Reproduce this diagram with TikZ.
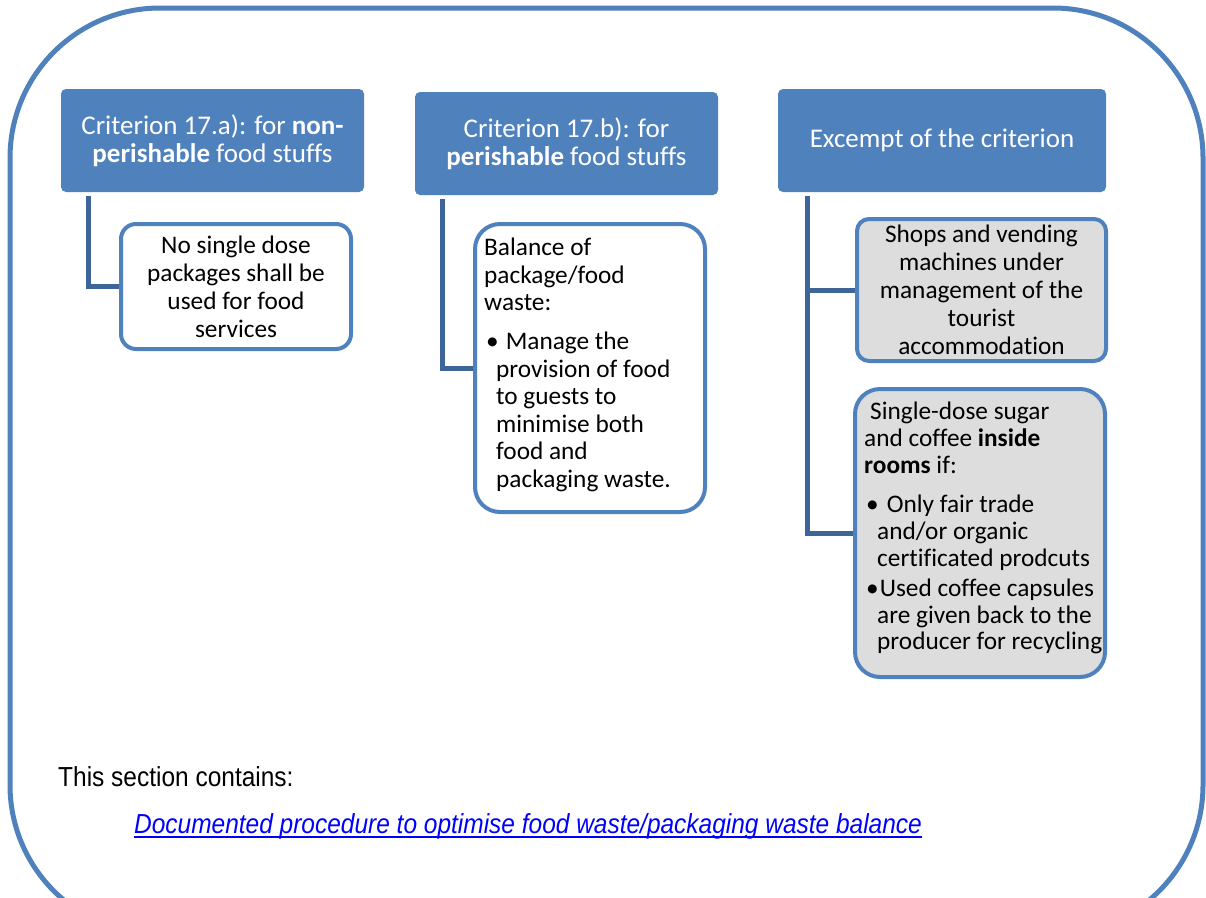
\documentclass[tikz,border=0pt]{standalone}
\usepackage{fontspec}
\setmainfont{Carlito}[RawFeature={-liga;-clig;-dlig}]
\newfontfamily\narrowfont[FakeStretch=0.89]{Liberation Sans}
\definecolor{hdr}{RGB}{79,129,189}
\definecolor{conncol}{RGB}{61,101,152}
\definecolor{boxgrey}{RGB}{221,221,221}
\definecolor{linkblue}{RGB}{0,0,255}
\begin{document}
\begin{tikzpicture}[x=1pt,y=-1pt,
  hdrbox/.style={fill=hdr, rounded corners=5pt, text=white, align=center,
    font=\fontsize{27}{28.5}\selectfont, inner sep=0pt, minimum height=103pt},
  childbox/.style={draw=hdr, line width=4pt, fill=white, align=center,
    font=\fontsize{25.3}{28}\selectfont, inner sep=0pt},
  greybox/.style={childbox, fill=boxgrey},
  childtxt/.style={align=left, inner sep=0pt, font=\fontsize{25.3}{27.6}\selectfont},
  conn/.style={draw=conncol, line width=5pt},
  outer/.style={draw=hdr, line width=5pt, rounded corners=150pt},
  bottomtxt/.style={anchor=base west, inner sep=0pt, font=\narrowfont\fontsize{27.5}{30}\selectfont}
]
\useasboundingbox (0,0) rectangle (1206,897);
\clip (0,0) rectangle (1206,897);
\fill[white] (0,0) rectangle (1206,897);
\draw[outer] (10,8) rectangle (1203,935);

% headers
\node[hdrbox, minimum width=303pt] (h1) at (212.5,140.5)
  {Criterion 17.a): for \textbf{non-}\\\textbf{perishable} food stuffs};
\node[hdrbox, minimum width=303pt] (h2) at (566.5,143.5)
  {Criterion 17.b): for\\\textbf{perishable} food stuffs};
\node[hdrbox, minimum width=328pt] (h3) at (942,140.5)
  {Excempt of the criterion};

% children
\node[childbox, rounded corners=15pt, minimum width=230pt, minimum height=125pt] (c1) at (236,286.5)
  {No single dose\\packages shall be\\used for food\\services};
\node[childbox, rounded corners=25pt, minimum width=230pt, minimum height=288pt] (c2) at (590,368) {};
\node[childtxt, anchor=west] (c2t) at ([xshift=11pt,yshift=3pt]c2.west)
  {Balance of\\package/food\\waste:\\[11pt]
   \hspace*{2pt}\textbullet\hspace{7pt}Manage the\\
   \hspace*{12pt}provision of food\\
   \hspace*{12pt}to guests to\\
   \hspace*{12pt}minimise both\\
   \hspace*{12pt}food and\\
   \hspace*{12pt}packaging waste.};
\node[greybox, rounded corners=12pt, minimum width=249pt, minimum height=142pt] (c3) at (981.5,290)
  {Shops and vending\\machines under\\management of the\\tourist\\accommodation};
\node[greybox, rounded corners=25pt, minimum width=250pt, minimum height=288pt] (c4) at (980,533) {};
\node[childtxt, anchor=west, font=\fontsize{25.3}{26.8}\selectfont] (c4t) at ([xshift=11pt,yshift=5pt]c4.west)
  {\hspace*{6pt}Single-dose sugar\\and coffee \textbf{inside}\\\textbf{rooms} if:\\[13pt]
   \hspace*{2pt}\textbullet\hspace{8pt}Only fair trade\\
   \hspace*{13pt}and/or organic\\
   \hspace*{13pt}certificated prodcuts\\[3pt]
   \hspace*{2pt}\textbullet\hspace{1pt}Used coffee capsules\\
   \hspace*{13pt}are given back to the\\
   \hspace*{13pt}producer for recycling};

% connectors
\draw[conn] ([xshift=28pt,yshift=-4pt]h1.south west) |- (c1.west);
\draw[conn] ([xshift=28pt,yshift=-4pt]h2.south west) |- (c2.west);
\draw[conn] ([xshift=30pt,yshift=-4pt]h3.south west) |- (c3.west);
\draw[conn] ([xshift=30pt,yshift=-4pt]h3.south west) |- (c4.west);

% bottom text
\node[bottomtxt] (sec) at (58,786) {This section contains:};
\node[bottomtxt, text=linkblue, font=\narrowfont\itshape\fontsize{27.5}{30}\selectfont] (lnk) at (134,833)
  {Documented procedure to optimise food waste/packaging waste balance};
\draw[linkblue, line width=2pt] ([yshift=-3.5pt]lnk.base west) -- ([yshift=-3.5pt]lnk.base east);
\end{tikzpicture}
\end{document}
